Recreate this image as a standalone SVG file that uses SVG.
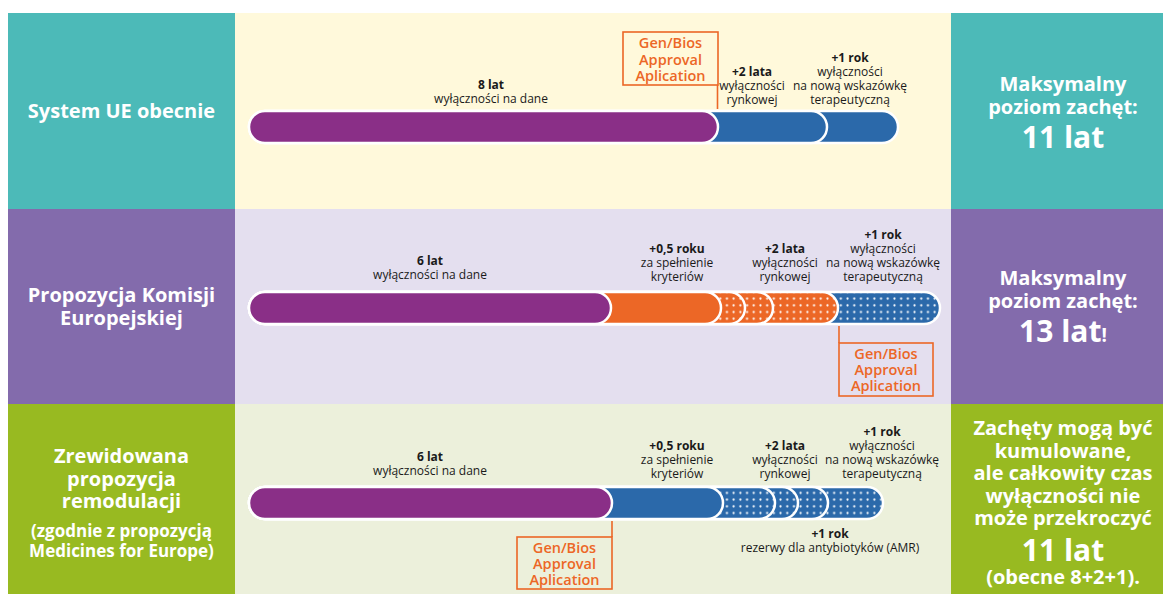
<svg xmlns="http://www.w3.org/2000/svg" width="1163" height="594" viewBox="0 0 1163 594">
<style>
.t{font-family:"Open Sans","Liberation Sans",sans-serif;text-anchor:middle}
.lbl{font-size:12px;fill:#1a1a1a}
.b{font-weight:700}
.side{font-size:20px;font-weight:700;fill:#fff}
.sub{font-size:17px;font-weight:700;fill:#fff}
.big{font-size:30px;font-weight:700;fill:#fff}
.gb{font-size:14.5px;font-weight:600;fill:#EC6726}
.seg{stroke:#fff;stroke-width:2.5}
.box{fill:none;stroke:#EC6726;stroke-width:1.6}
</style>
<defs>
<pattern id="dots" patternUnits="userSpaceOnUse" width="6.7" height="6.7" x="0" y="0.5">
<circle cx="3.35" cy="3.35" r="1.1" fill="#fff"/>
</pattern>
</defs>
<rect width="1163" height="594" fill="#fff"/>
<g id="row1">
<rect x="8" y="13" width="227" height="196" fill="#4CBAB8"/>
<rect x="235" y="13" width="716" height="196" fill="#FFF9DB"/>
<rect x="951" y="13" width="212" height="196" fill="#4CBAB8"/>
</g>
<g id="row2">
<rect x="8" y="209" width="227" height="195" fill="#836BAC"/>
<rect x="235" y="209" width="716" height="195" fill="#E4DFEF"/>
<rect x="951" y="209" width="212" height="195" fill="#836BAC"/>
</g>
<g id="row3">
<rect x="8" y="404" width="227" height="190" fill="#98BA21"/>
<rect x="235" y="404" width="716" height="190" fill="#ECF0DB"/>
<rect x="951" y="404" width="212" height="190" fill="#98BA21"/>
</g>

<g id="label-row1"><text class="t side" x="121.5" y="118">System UE obecnie</text></g>
<g id="label-row2"><text class="t side" x="121.5" y="302">Propozycja Komisji</text><text class="t side" x="121.5" y="325">Europejskiej</text></g>
<g id="label-row3">
<text class="t side" x="121.5" y="463">Zrewidowana</text>
<text class="t side" x="121.5" y="485.5">propozycja</text>
<text class="t side" x="121.5" y="508">remodulacji</text>
<text class="t sub" x="121.5" y="537">(zgodnie z propozycją</text>
<text class="t sub" x="121.5" y="557">Medicines for Europe)</text>
</g>

<g id="result-row1">
<text class="t side" x="1063" y="91">Maksymalny</text>
<text class="t side" x="1063" y="114">poziom zachęt:</text>
<text class="t big" x="1063" y="148">11 lat</text>
</g>
<g id="result-row2">
<text class="t side" x="1063" y="285">Maksymalny</text>
<text class="t side" x="1063" y="308">poziom zachęt:</text>
<text class="t big" x="1063" y="342">13 lat<tspan font-size="19">!</tspan></text>
</g>
<g id="result-row3">
<text class="t side" x="1063" y="435">Zachęty mogą być</text>
<text class="t side" x="1063" y="457.5">kumulowane,</text>
<text class="t side" x="1063" y="480">ale całkowity czas</text>
<text class="t side" x="1063" y="502.5">wyłączności nie</text>
<text class="t side" x="1063" y="525">może przekroczyć</text>
<text class="t big" x="1063" y="561">11 lat</text>
<text class="t side" x="1063" y="584">(obecne 8+2+1).</text>
</g>

<g id="bar1">
<rect class="seg" x="249" y="111" width="649" height="32" rx="16" fill="#2B69AA"/>
<rect class="seg" x="249" y="111" width="578" height="32" rx="16" fill="#2B69AA"/>
<rect class="seg" x="249" y="111" width="469" height="32" rx="16" fill="#8A2F87"/>
</g>
<g id="bar2">
<rect class="seg" x="249" y="292" width="691" height="32" rx="16" fill="#2B69AA"/>
<rect x="249" y="292" width="691" height="32" rx="16" fill="url(#dots)"/>
<rect class="seg" x="249" y="292" width="589" height="32" rx="16" fill="#EC6726"/>
<rect x="249" y="292" width="589" height="32" rx="16" fill="url(#dots)"/>
<rect class="seg" x="249" y="292" width="524" height="32" rx="16" fill="#EC6726"/>
<rect x="249" y="292" width="524" height="32" rx="16" fill="url(#dots)"/>
<rect class="seg" x="249" y="292" width="496" height="32" rx="16" fill="#EC6726"/>
<rect x="249" y="292" width="496" height="32" rx="16" fill="url(#dots)"/>
<rect class="seg" x="249" y="292" width="472" height="32" rx="16" fill="#EC6726"/>
<rect class="seg" x="249" y="292" width="362" height="32" rx="16" fill="#8A2F87"/>
</g>
<g id="bar3">
<rect class="seg" x="249" y="487" width="634" height="32" rx="16" fill="#2B69AA"/>
<rect x="249" y="487" width="634" height="32" rx="16" fill="url(#dots)"/>
<rect class="seg" x="249" y="487" width="579" height="32" rx="16" fill="#2B69AA"/>
<rect x="249" y="487" width="579" height="32" rx="16" fill="url(#dots)"/>
<rect class="seg" x="249" y="487" width="549" height="32" rx="16" fill="#2B69AA"/>
<rect x="249" y="487" width="549" height="32" rx="16" fill="url(#dots)"/>
<rect class="seg" x="249" y="487" width="526" height="32" rx="16" fill="#2B69AA"/>
<rect x="249" y="487" width="526" height="32" rx="16" fill="url(#dots)"/>
<rect class="seg" x="249" y="487" width="474" height="32" rx="16" fill="#2B69AA"/>
<rect class="seg" x="249" y="487" width="363" height="32" rx="16" fill="#8A2F87"/>
</g>

<g id="connectors" stroke="#EC6726" stroke-width="1.6">
<line x1="717.5" y1="85" x2="717.5" y2="109"/>
<line x1="839" y1="326" x2="839" y2="343"/>
<line x1="612" y1="521" x2="612" y2="537"/>
</g>

<g id="genbios1">
<rect class="box" x="623" y="32" width="95" height="53"/>
<text class="t gb" x="670.5" y="48">Gen/Bios</text>
<text class="t gb" x="670.5" y="64.5">Approval</text>
<text class="t gb" x="670.5" y="80.5">Aplication</text>
</g>
<g id="genbios2">
<rect class="box" x="839" y="343" width="94" height="53"/>
<text class="t gb" x="886" y="359">Gen/Bios</text>
<text class="t gb" x="886" y="375">Approval</text>
<text class="t gb" x="886" y="390.5">Aplication</text>
</g>
<g id="genbios3">
<rect class="box" x="517" y="537" width="95" height="52"/>
<text class="t gb" x="564.5" y="553">Gen/Bios</text>
<text class="t gb" x="564.5" y="569">Approval</text>
<text class="t gb" x="564.5" y="584.5">Aplication</text>
</g>

<g id="labels1">
<text class="t lbl b" x="491" y="89">8 lat</text>
<text class="t lbl" x="491" y="103">wyłączności na dane</text>
<text class="t lbl b" x="752" y="76">+2 lata</text>
<text class="t lbl" x="752" y="90">wyłączności</text>
<text class="t lbl" x="752" y="104">rynkowej</text>
<text class="t lbl b" x="850" y="62">+1 rok</text>
<text class="t lbl" x="850" y="76">wyłączności</text>
<text class="t lbl" x="850" y="90">na nową wskazówkę</text>
<text class="t lbl" x="850" y="104">terapeutyczną</text>
</g>
<g id="labels2">
<text class="t lbl b" x="430" y="265">6 lat</text>
<text class="t lbl" x="430" y="279">wyłączności na dane</text>
<text class="t lbl b" x="677" y="253">+0,5 roku</text>
<text class="t lbl" x="677" y="267">za spełnienie</text>
<text class="t lbl" x="677" y="281">kryteriów</text>
<text class="t lbl b" x="785" y="253">+2 lata</text>
<text class="t lbl" x="785" y="267">wyłączności</text>
<text class="t lbl" x="785" y="281">rynkowej</text>
<text class="t lbl b" x="883" y="239">+1 rok</text>
<text class="t lbl" x="883" y="253">wyłączności</text>
<text class="t lbl" x="883" y="267">na nową wskazówkę</text>
<text class="t lbl" x="883" y="281">terapeutyczną</text>
</g>
<g id="labels3">
<text class="t lbl b" x="430" y="461">6 lat</text>
<text class="t lbl" x="430" y="475">wyłączności na dane</text>
<text class="t lbl b" x="677" y="450">+0,5 roku</text>
<text class="t lbl" x="677" y="464">za spełnienie</text>
<text class="t lbl" x="677" y="478">kryteriów</text>
<text class="t lbl b" x="785" y="450">+2 lata</text>
<text class="t lbl" x="785" y="464">wyłączności</text>
<text class="t lbl" x="785" y="478">rynkowej</text>
<text class="t lbl b" x="882" y="436">+1 rok</text>
<text class="t lbl" x="882" y="450">wyłączności</text>
<text class="t lbl" x="882" y="464">na nową wskazówkę</text>
<text class="t lbl" x="882" y="478">terapeutyczną</text>
<text class="t lbl b" x="830" y="538">+1 rok</text>
<text class="t lbl" x="830" y="552">rezerwy dla antybiotyków (AMR)</text>
</g>
</svg>
